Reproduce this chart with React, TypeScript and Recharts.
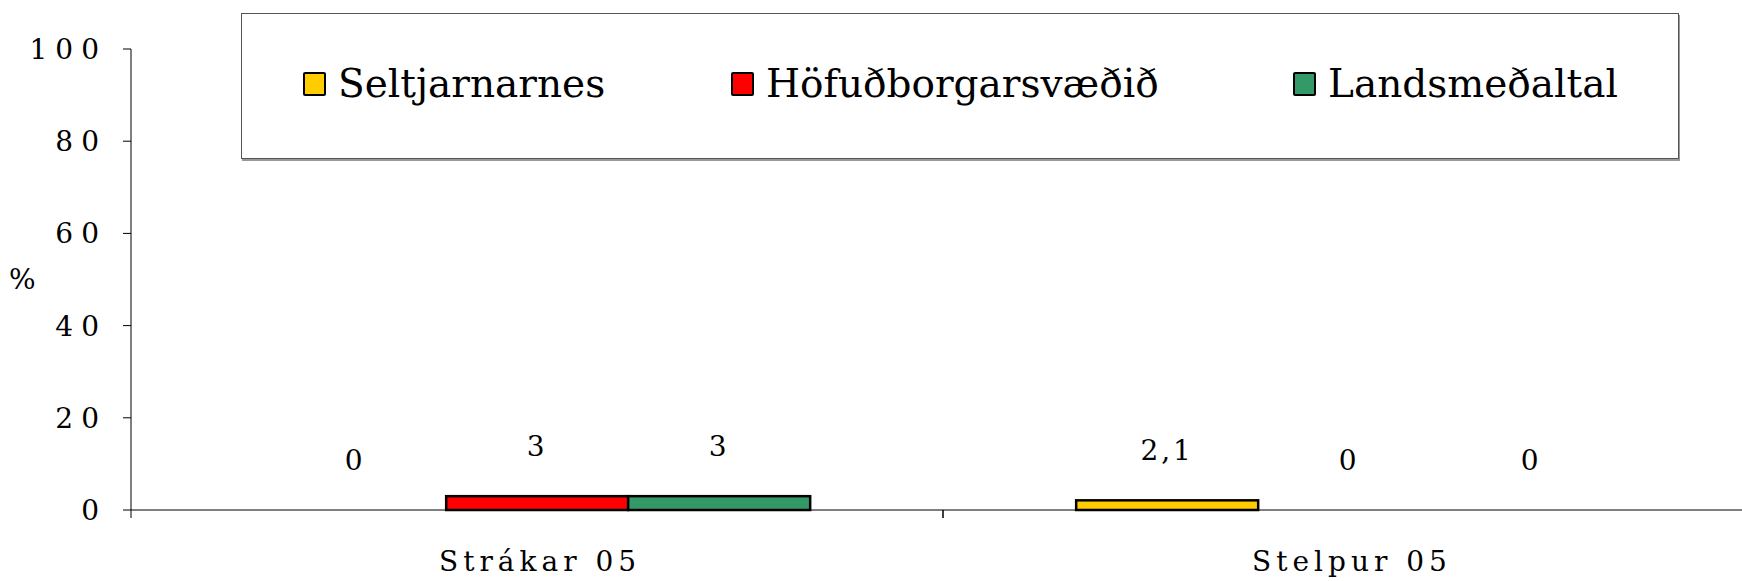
import { BarChart, Bar, XAxis, YAxis, Legend } from "recharts";

const categories = ["Strákar 05", "Stelpur 05"];
const seriesNames = ["Seltjarnarnes", "Höfuðborgarsvæðið", "Landsmeðaltal"];
const seltjarnarnes = [0, 2.1];
const hofudborgarsvaedid = [3, 0];
const landsmedaltal = [3, 0];
const yTicks = [0, 20, 40, 60, 80, 100];

const COLORS = ["#FFCC00", "#FF0000", "#339966"];
const KEYS = ["selt", "hofud", "lands"];
const FONT = "'DejaVu Serif', serif";

const chartData = categories.map((name, i) => ({
  name,
  selt: seltjarnarnes[i],
  hofud: hofudborgarsvaedid[i],
  lands: landsmedaltal[i],
}));

const fmt = (v: any) => String(v).replace(".", ",");

function CategoryTick(props: any) {
  const { x, y, payload } = props;
  const half = payload?.offset ?? 0;
  return (
    <g>
      <line x1={x - half} x2={x - half} y1={y} y2={y + 8} stroke="#000" />
      <line x1={x + half} x2={x + half} y1={y} y2={y + 8} stroke="#000" />
      <text
        x={x + 3}
        y={y + 61}
        textAnchor="middle"
        fontFamily={FONT}
        fontSize={28}
        letterSpacing={5}
        fill="#000"
      >
        {payload.value}
      </text>
    </g>
  );
}

function ValueTick(props: any) {
  const { x, y, payload } = props;
  return (
    <text
      x={x + 8}
      y={y + 10}
      textAnchor="end"
      fontFamily={FONT}
      fontSize={28}
      letterSpacing={8}
      fill="#000"
    >
      {payload.value}
    </text>
  );
}

// bar with its value written above, also drawn for zero-height bars
function LabelledBar(props: any) {
  const { x, y, width, height, fill, value } = props;
  const v = Array.isArray(value) ? value[1] - value[0] : value;
  return (
    <g>
      {height > 0 && (
        <rect x={x} y={y} width={width} height={height} fill={fill} stroke="#000" strokeWidth={2.5} />
      )}
      <text
        x={x + width / 2}
        y={y - 40}
        textAnchor="middle"
        fontFamily={FONT}
        fontSize={28}
        letterSpacing={3}
        fill="#000"
      >
        {fmt(v)}
      </text>
    </g>
  );
}

function LegendBox() {
  const lefts = [61, 489, 1051];
  return (
    <div
      style={{
        position: "relative",
        width: 1436,
        height: 144,
        border: "1px solid #555",
        boxShadow: "1px 2px 0 #999",
        background: "#fff",
        fontFamily: FONT,
      }}
    >
      {seriesNames.map((n, i) => (
        <div
          key={n}
          style={{
            position: "absolute",
            left: lefts[i],
            top: 48,
            display: "flex",
            alignItems: "center",
            whiteSpace: "nowrap",
          }}
        >
          <span
            style={{
              display: "inline-block",
              width: 19,
              height: 20,
              background: COLORS[i],
              border: "2.5px solid #000",
              borderRadius: 2,
              marginRight: 12,
            }}
          />
          <span style={{ fontSize: 39, lineHeight: "44px", color: "#000" }}>{n}</span>
        </div>
      ))}
    </div>
  );
}

export default function App() {
  return (
    <div style={{ position: "absolute", left: 0, top: 0, width: 1742, height: 581, background: "#fff", overflow: "hidden" }}>
      <BarChart
        width={1742}
        height={581}
        data={chartData}
        margin={{ top: 49, right: -13, left: 0, bottom: 11 }}
        barCategoryGap="16.4%"
        barGap={0}
      >
        <XAxis
          dataKey="name"
          height={60}
          stroke="#000"
          tickLine={false}
          tickSize={0}
          tickMargin={0}
          tick={<CategoryTick />}
          interval={0}
        />
        <YAxis
          width={131}
          domain={[0, 100]}
          ticks={yTicks}
          stroke="#000"
          tickSize={8}
          tickMargin={24}
          tick={<ValueTick />}
          interval={0}
          label={{
            value: "%",
            position: "insideLeft",
            dx: 4,
            style: { fontFamily: FONT, fontSize: 28, fill: "#000" },
          }}
        />
        <Legend
          layout="horizontal"
          verticalAlign="middle"
          align="center"
          wrapperStyle={{ position: "absolute", left: 241, top: 13, width: 1438, height: 146 }}
          content={() => <LegendBox />}
        />
        {KEYS.map((k, i) => (
          <Bar
            key={k}
            dataKey={k}
            name={seriesNames[i]}
            fill={COLORS[i]}
            stroke="#000"
            strokeWidth={2.5}
            shape={<LabelledBar />}
            isAnimationActive={false}
          />
        ))}
      </BarChart>
    </div>
  );
}
